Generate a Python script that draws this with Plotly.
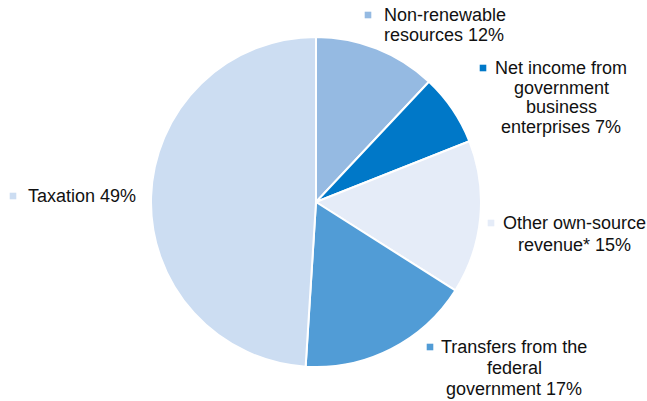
import plotly.graph_objects as go

# Revenue composition (per cent of total)
categories = [
    "Non-renewable resources",
    "Net income from government business enterprises",
    "Other own-source revenue*",
    "Transfers from the federal government",
    "Taxation",
]
shares = [12, 7, 15, 17, 49]
label_texts = [
    "Non-renewable<br>resources 12%",
    "Net income from<br>government<br>business<br>enterprises 7%",
    "Other own-source<br>revenue* 15%",
    "Transfers from the<br>federal<br>government 17%",
    "Taxation 49%",
]
colors = ["#95BAE2", "#0078C8", "#E5ECF8", "#519CD6", "#CCDDF2"]

W, H = 647, 401
cx, cy, r = 316, 202, 165

fig = go.Figure(
    go.Pie(
        labels=categories,
        values=shares,
        sort=False,
        direction="clockwise",
        rotation=0,
        marker=dict(colors=colors, line=dict(color="white", width=2)),
        textinfo="none",
        hoverinfo="label+percent",
        showlegend=False,
        domain=dict(
            x=[(cx - r) / W, (cx + r) / W],
            y=[(H - cy - r) / H, (H - cy + r) / H],
        ),
    )
)

# label placement in pixels: (text x, first-line y, anchor, line gap, square x, square y)
placements = [
    (383, 15, "left", 20.0, 368, 15),
    (561, 68, "center", 19.7, 483, 68),
    (574, 223, "center", 22.0, 491, 223),
    (514, 347, "center", 21.0, 430, 347),
    (27, 196, "left", 20.0, 13, 196),
]

font = dict(family="Arial, Liberation Sans, sans-serif", size=18, color="#111111")
annotations = []
shapes = []
for text, col, (tx, ty, xa, gap, sx, sy) in zip(label_texts, colors, placements):
    for i, line in enumerate(text.split("<br>")):
        annotations.append(
            dict(
                x=tx / W, y=1 - (ty + i * gap) / H, xref="paper", yref="paper",
                text=line, showarrow=False, xanchor=xa, yanchor="middle",
                font=font, borderpad=0,
            )
        )
    s = 3.3
    shapes.append(
        dict(
            type="rect", xref="paper", yref="paper",
            x0=(sx - s) / W, x1=(sx + s) / W,
            y0=1 - (sy + s) / H, y1=1 - (sy - s) / H,
            fillcolor=col, line=dict(width=0),
        )
    )

fig.update_layout(
    width=W, height=H,
    margin=dict(l=0, r=0, t=0, b=0),
    paper_bgcolor="white", plot_bgcolor="white",
    annotations=annotations, shapes=shapes,
)

fig.write_html("out.html")
